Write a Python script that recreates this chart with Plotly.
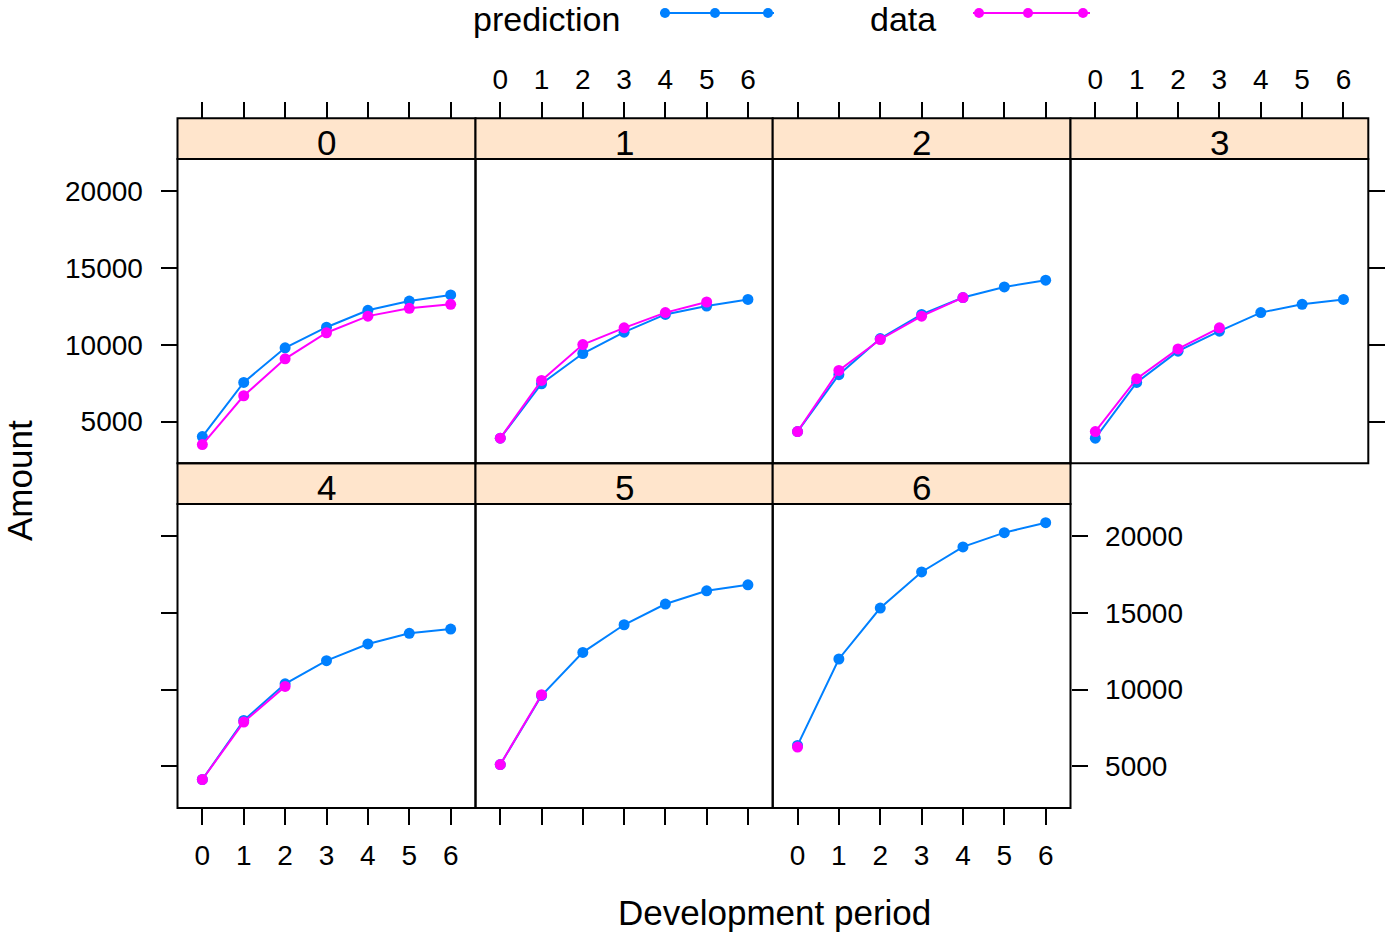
import plotly.graph_objects as go

# Development periods and origin (accident) periods
dev_periods = [0, 1, 2, 3, 4, 5, 6]
origin_periods = ["0", "1", "2", "3", "4", "5", "6"]

# Model predictions per origin period
pred_0 = [4020, 7550, 9800, 11140, 12240, 12840, 13240]
pred_1 = [3920, 7460, 9430, 10820, 11970, 12520, 12950]
pred_2 = [4350, 8050, 10400, 11970, 13070, 13760, 14200]
pred_3 = [3920, 7550, 9580, 10880, 12090, 12630, 12950]
pred_4 = [4140, 7990, 10370, 11880, 12970, 13660, 13940]
pred_5 = [5110, 9610, 12420, 14220, 15570, 16430, 16820]
pred_6 = [6360, 11990, 15310, 17660, 19290, 20220, 20870]

# Observed cumulative amounts (upper triangle)
data_0 = [3500, 6680, 9080, 10780, 11860, 12370, 12630]
data_1 = [3920, 7680, 10010, 11100, 12090, 12780]
data_2 = [4350, 8330, 10340, 11860, 13070]
data_3 = [4350, 7790, 9730, 11100]
data_4 = [4140, 7880, 10200]
data_5 = [5110, 9660]
data_6 = [6250]

y_tick_vals = [5000, 10000, 15000, 20000]
y_tick_text = ["5000", "10000", "15000", "20000"]

predictions = [pred_0, pred_1, pred_2, pred_3, pred_4, pred_5, pred_6]
observed = [data_0, data_1, data_2, data_3, data_4, data_5, data_6]

W, H = 1387, 938
BLUE = "#0080ff"
MAGENTA = "#ff00ff"
STRIP = "#ffe5cc"
FONT = "Liberation Sans, Arial, Helvetica, sans-serif"

col_edges = [177.5, 475.5, 772.7, 1070.5, 1368.3]
row_strip = [(118.3, 159.0), (463.3, 504.0)]
row_panel = [(159.0, 463.3), (504.0, 808.0)]


def fx(x):
    return x / W


def fy(y):
    return 1 - y / H


# shared y range with lattice-style 7% padding
all_vals = [v for s in predictions + observed for v in s]
lo, hi = min(all_vals), max(all_vals)
pad = 0.07 * (hi - lo)
y_range = [lo - pad, hi + pad]
x_range = [-0.6, len(dev_periods) - 0.4]

fig = go.Figure()
layout = {}
shapes = []
annotations = []

for i, name in enumerate(origin_periods):
    row, col = divmod(i, 4)
    n = "" if i == 0 else str(i + 1)
    xa, ya = "x" + n, "y" + n
    x0, x1 = col_edges[col], col_edges[col + 1]
    ps0, ps1 = row_strip[row]
    pp0, pp1 = row_panel[row]

    fig.add_trace(go.Scatter(
        x=dev_periods[:len(predictions[i])], y=predictions[i],
        mode="lines+markers", line=dict(color=BLUE, width=2),
        marker=dict(color=BLUE, size=11), xaxis=xa, yaxis=ya,
        showlegend=False, name="prediction"))
    fig.add_trace(go.Scatter(
        x=dev_periods[:len(observed[i])], y=observed[i],
        mode="lines+markers", line=dict(color=MAGENTA, width=2),
        marker=dict(color=MAGENTA, size=11), xaxis=xa, yaxis=ya,
        showlegend=False, name="data"))

    xaxis = dict(
        domain=[fx(x0), fx(x1)], range=x_range,
        tickvals=dev_periods, ticktext=[str(d) for d in dev_periods],
        ticks="outside", ticklen=16, tickwidth=2, tickcolor="black",
        showgrid=False, zeroline=False, showline=False,
        tickfont=dict(size=28, color="black", family=FONT),
        fixedrange=True,
    )
    if row == 0:
        xaxis.update(side="top", anchor="free", position=fy(ps0),
                     showticklabels=(col % 2 == 1), ticklabelstandoff=2)
    else:
        xaxis.update(side="bottom", anchor=ya,
                     showticklabels=(col % 2 == 0), ticklabelstandoff=6)

    yaxis = dict(
        domain=[fy(pp1), fy(pp0)], range=y_range, anchor=xa,
        tickvals=y_tick_vals, ticktext=y_tick_text,
        ticklen=16, tickwidth=2, tickcolor="black",
        showgrid=False, zeroline=False, showline=False,
        tickfont=dict(size=28, color="black", family=FONT),
        ticklabelstandoff=12, fixedrange=True,
    )
    if i == 0:
        yaxis.update(side="left", ticks="outside", showticklabels=True)
    elif i == 3:
        yaxis.update(side="right", ticks="outside", showticklabels=False)
    elif i == 4:
        yaxis.update(side="left", ticks="outside", showticklabels=False)
    elif i == 6:
        yaxis.update(side="right", ticks="outside", showticklabels=True)
    else:
        yaxis.update(ticks="", showticklabels=False)

    layout["xaxis" + n] = xaxis
    layout["yaxis" + n] = yaxis

    # strip with the origin period label
    shapes.append(dict(type="rect", xref="paper", yref="paper",
                       x0=fx(x0), x1=fx(x1), y0=fy(ps1), y1=fy(ps0),
                       fillcolor=STRIP, line=dict(color="black", width=2),
                       layer="below"))
    annotations.append(dict(text=name, xref="paper", yref="paper",
                            x=fx((x0 + x1) / 2), y=fy((ps0 + ps1) / 2 + 4),
                            xanchor="center", yanchor="middle", showarrow=False,
                            font=dict(size=35, color="black", family=FONT)))
    # panel border
    shapes.append(dict(type="rect", xref="paper", yref="paper",
                       x0=fx(x0), x1=fx(x1), y0=fy(pp1), y1=fy(pp0),
                       line=dict(color="black", width=2), layer="above"))

# axis titles
annotations.append(dict(text="Development period", xref="paper", yref="paper",
                        x=fx(774), y=fy(912), xanchor="center", yanchor="middle",
                        showarrow=False, font=dict(size=35, color="black", family=FONT)))
annotations.append(dict(text="Amount", xref="paper", yref="paper",
                        x=fx(19), y=fy(481), xanchor="center", yanchor="middle",
                        textangle=-90, showarrow=False,
                        font=dict(size=35, color="black", family=FONT)))

# key at the top: label followed by a line with three points
legend_items = [("prediction", BLUE, 546, (660, 774), [665, 715, 768]),
                ("data", MAGENTA, 903, (973, 1090), [979, 1028, 1083])]
ky = 13
for label, color, tx, (lx0, lx1), pts in legend_items:
    annotations.append(dict(text=label, xref="paper", yref="paper",
                            x=fx(tx), y=fy(ky + 6), xanchor="center", yanchor="middle",
                            showarrow=False, font=dict(size=34, color="black", family=FONT)))
    shapes.append(dict(type="line", xref="paper", yref="paper",
                       x0=fx(lx0), x1=fx(lx1), y0=fy(ky), y1=fy(ky),
                       line=dict(color=color, width=2)))
    for px in pts:
        shapes.append(dict(type="circle", xref="paper", yref="paper",
                           x0=fx(px - 5), x1=fx(px + 5),
                           y0=fy(ky + 5), y1=fy(ky - 5),
                           fillcolor=color, line=dict(color=color, width=0)))

fig.update_layout(
    width=W, height=H, margin=dict(l=0, r=0, t=0, b=0),
    paper_bgcolor="white", plot_bgcolor="white",
    showlegend=False, shapes=shapes, annotations=annotations,
    font=dict(family=FONT, color="black"),
    **layout,
)

fig.write_html("out.html")
